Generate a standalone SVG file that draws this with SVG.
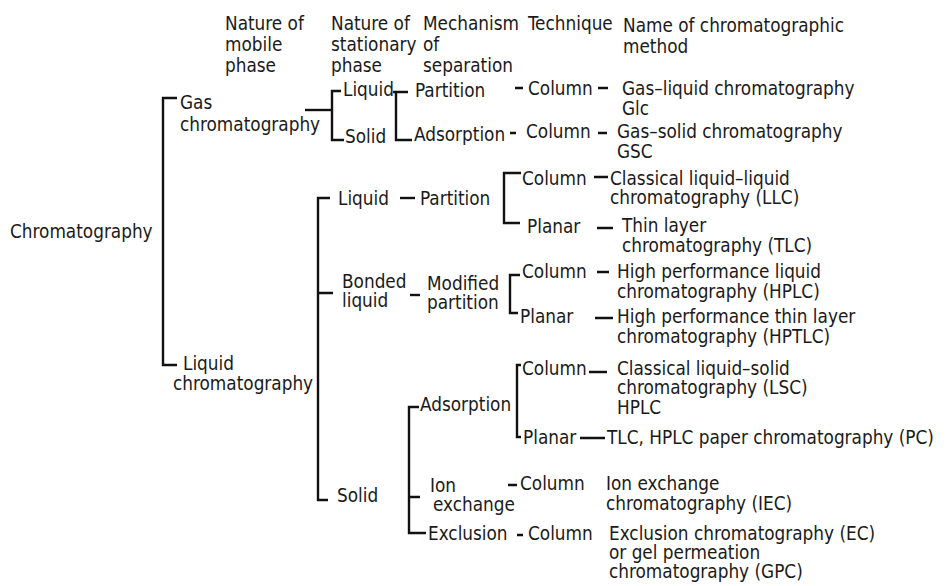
<svg xmlns="http://www.w3.org/2000/svg" width="948" height="586" viewBox="0 0 948 586">
<style>
text{font-family:"DejaVu Sans Condensed","DejaVu Sans",sans-serif;font-stretch:condensed;font-size:18.8px;fill:#1a1a1a}
.c path{fill:none;stroke:#111;stroke-width:2.4}
</style>
<rect width="948" height="586" fill="#fff"/>
<g id="headers">
<text x="225" y="30">Nature of</text><text x="225" y="51">mobile</text><text x="225" y="72">phase</text>
<text x="331" y="30">Nature of</text><text x="331" y="51">stationary</text><text x="331" y="72">phase</text>
<text x="423" y="30">Mechanism</text><text x="423" y="51">of</text><text x="423" y="72">separation</text>
<text x="528" y="30">Technique</text>
<text x="623" y="32">Name of chromatographic</text><text x="623" y="53">method</text>
</g>
<g id="root"><text x="10" y="238">Chromatography</text></g>
<g id="gas"><text x="180" y="109">Gas</text><text x="180" y="131">chromatography</text></g>
<g id="lc"><text x="183" y="370">Liquid</text><text x="173" y="390">chromatography</text></g>
<g id="gas-liquid"><text x="343" y="96">Liquid</text></g>
<g id="gas-solid"><text x="345" y="143">Solid</text></g>
<g id="gas-partition"><text x="415" y="97">Partition</text></g>
<g id="gas-adsorption"><text x="414" y="141">Adsorption</text></g>
<g id="gas-col1"><text x="528" y="95">Column</text></g>
<g id="gas-col2"><text x="526" y="138">Column</text></g>
<g id="glc"><text x="622" y="95">Gas–liquid chromatography</text><text x="622" y="115">Glc</text></g>
<g id="gsc"><text x="617" y="138">Gas–solid chromatography</text><text x="617" y="158">GSC</text></g>
<g id="lc-liquid"><text x="338" y="205">Liquid</text></g>
<g id="lc-bonded"><text x="342" y="288">Bonded</text><text x="342" y="307">liquid</text></g>
<g id="lc-solid"><text x="337" y="502">Solid</text></g>
<g id="lc-partition"><text x="420" y="205">Partition</text></g>
<g id="lc-modified"><text x="427" y="290">Modified</text><text x="427" y="309">partition</text></g>
<g id="lc-adsorption"><text x="420" y="411">Adsorption</text></g>
<g id="lc-ion"><text x="430" y="492">Ion</text><text x="433" y="511">exchange</text></g>
<g id="lc-exclusion"><text x="428" y="540">Exclusion</text></g>
<g id="t1"><text x="522" y="185">Column</text></g>
<g id="t2"><text x="527" y="233">Planar</text></g>
<g id="t3"><text x="522" y="278">Column</text></g>
<g id="t4"><text x="520" y="323">Planar</text></g>
<g id="t5"><text x="522" y="375">Column</text></g>
<g id="t6"><text x="523" y="444">Planar</text></g>
<g id="t7"><text x="520" y="490">Column</text></g>
<g id="t8"><text x="528" y="540">Column</text></g>
<g id="llc"><text x="610" y="185">Classical liquid–liquid</text><text x="610" y="204">chromatography (LLC)</text></g>
<g id="tlc"><text x="622" y="232">Thin layer</text><text x="622" y="252">chromatography (TLC)</text></g>
<g id="hplc"><text x="617" y="278">High performance liquid</text><text x="617" y="298">chromatography (HPLC)</text></g>
<g id="hptlc"><text x="617" y="323">High performance thin layer</text><text x="617" y="343">chromatography (HPTLC)</text></g>
<g id="lsc"><text x="617" y="375">Classical liquid–solid</text><text x="617" y="394">chromatography (LSC)</text><text x="617" y="414">HPLC</text></g>
<g id="pc"><text x="607" y="444">TLC, HPLC paper chromatography (PC)</text></g>
<g id="iec"><text x="606" y="490">Ion exchange</text><text x="606" y="510">chromatography (IEC)</text></g>
<g id="gpc"><text x="609" y="540">Exclusion chromatography (EC)</text><text x="609" y="559">or gel permeation</text><text x="609" y="578">chromatography (GPC)</text></g>
<g id="connectors" class="c">
<path d="M177,98 H163 V365 H177"/>
<path d="M305,110 H332"/>
<path d="M341,91 H332 V140 H344"/>
<path d="M393,92 H408 M396,92 V140 H412"/>
<path d="M515,88 H523 M598,88 H608"/>
<path d="M510,133 H516 M598,133 H607"/>
<path d="M330,198 H318 V500 H328 M318,293 H333"/>
<path d="M400,198 H415"/>
<path d="M410,295 H420"/>
<path d="M521,173 H504 V223 H520"/>
<path d="M594,177 H608 M597,228 H613"/>
<path d="M520,275 H510 V313 H518"/>
<path d="M597,272 H609 M595,318 H613"/>
<path d="M419,407 H409 V533 H426 M409,497 H420"/>
<path d="M521,365 H517 V437 H521"/>
<path d="M589,372 H607 M580,438 H605"/>
<path d="M508,485 H517 M517,535 H523"/>
</g>
</svg>
